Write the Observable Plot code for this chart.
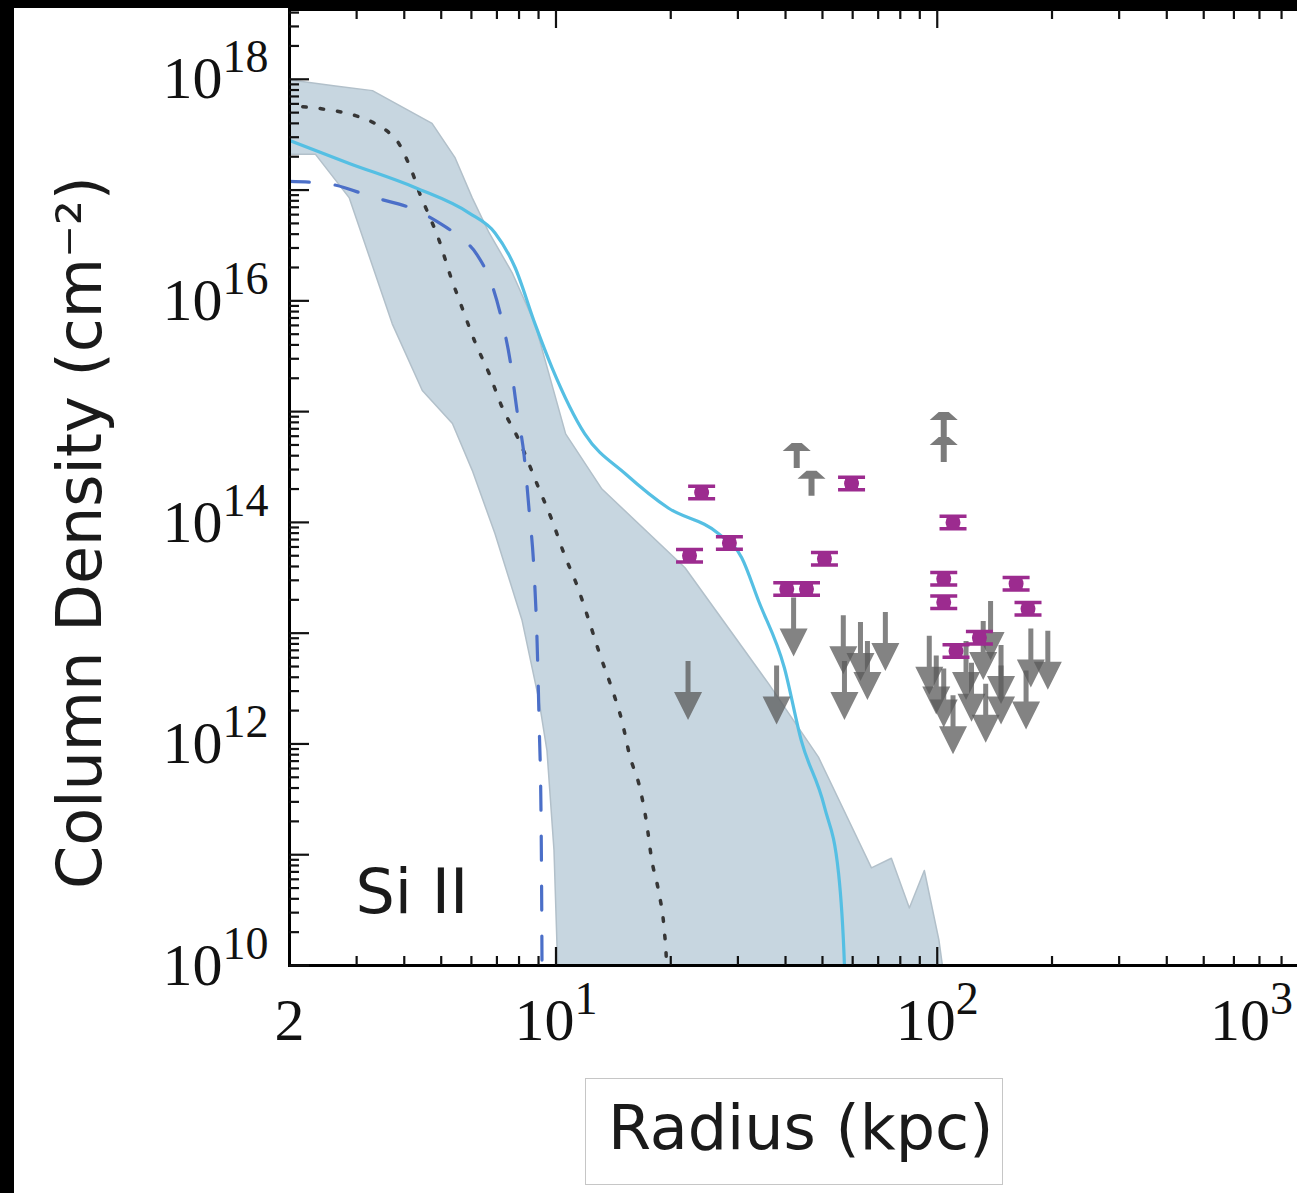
<!DOCTYPE html>
<html>
<head>
<meta charset="utf-8">
<script src="https://cdn.jsdelivr.net/npm/d3@7"></script>
<script src="https://cdn.jsdelivr.net/npm/@observablehq/plot@0.6"></script>
<style>
  html, body { margin: 0; padding: 0; background: #fff; overflow: hidden; width: 1297px; height: 1193px; }
  #chart { position: absolute; left: 14px; top: 8px; width: 1324px; }
  #chart svg { max-width: none !important; width: 1324px; height: 1050px; }
  #strip-left { position: absolute; left: 0; top: 0; width: 14px; height: 1193px; background: #000; }
  #strip-top { position: absolute; left: 0; top: 0; width: 1297px; height: 8px; background: #000; }
  #xlabel { position: absolute; left: 585px; top: 1078px; width: 416px; height: 105px; border: 1px solid #c6c6c6; }
  #xlabel span { position: absolute; left: 22px; top: 18px; font-family: "DejaVu Sans"; font-size: 62px; line-height: 62px; color: #1a1a1a; white-space: nowrap; }
</style>
</head>
<body>
<div id="chart"></div>
<div id="strip-left"></div>
<div id="strip-top"></div>
<div id="xlabel"><span>Radius (kpc)</span></div>
<script>
// ---- shaded model range (upper edge, left to right) ----
const bandUpperR = [1.95, 2.64, 3.30, 4.73, 5.44, 6.03, 6.68, 7.67, 8.81, 10.6, 13.2, 21.8, 36.1, 48.8, 67.2, 75.8, 84.5, 92.5, 101, 108];
const bandUpperN = [1.0e18, 8.7e17, 7.9e17, 4.0e17, 1.95e17, 8.5e16, 4.1e16, 1.8e16, 6.2e15, 6.3e14, 2.0e14, 3.9e13, 3.5e12, 7.6e11, 7.6e10, 9.3e10, 3.3e10, 7.2e10, 1.7e10, 3.2e9];
// ---- shaded model range (lower edge, left to right) ----
const bandLowerR = [1.95, 2.34, 2.87, 3.24, 3.72, 4.46, 5.35, 6.03, 6.92, 8.15, 9.02, 9.47, 9.88, 10.1, 10.15];
const bandLowerN = [2.1e17, 2.1e17, 8.5e16, 2.5e16, 6.2e15, 1.55e15, 7.8e14, 2.95e14, 7.9e13, 1.3e13, 2.5e12, 8.7e11, 1.1e11, 1.0e10, 3.2e9];

// ---- solid cyan model ----
const solidR = [1.95, 2.87, 4.28, 5.92, 6.92, 7.81, 8.81, 9.76, 11.9, 15.2, 19.7, 26.7, 30.7, 34.0, 39.7, 44.0, 50.6, 55.1, 57.1, 57.6];
const solidN = [2.9e17, 1.74e17, 1.05e17, 6.2e16, 4.1e16, 2.0e16, 6.2e15, 2.5e15, 6.3e14, 2.75e14, 1.35e14, 7.9e13, 4.8e13, 1.95e13, 4.9e12, 1.07e12, 2.7e11, 6.8e10, 1.0e10, 4.0e9];

// ---- dashed blue model ----
const dashedR = [1.95, 2.48, 3.36, 4.20, 4.88, 5.51, 6.21, 6.80, 7.22, 7.58, 7.91, 8.25, 8.50, 8.76, 8.92, 9.03, 9.14, 9.19, 9.20];
const dashedN = [1.2e17, 1.15e17, 8.5e16, 6.8e16, 5.2e16, 3.9e16, 2.6e16, 1.38e16, 6.6e15, 2.9e15, 1.0e15, 4.0e14, 1.3e14, 3.6e13, 8.5e12, 1.6e12, 2.0e11, 1.0e10, 4.0e9];

// ---- dotted dark model ----
const dottedR = [1.95, 2.44, 2.98, 3.30, 3.61, 3.88, 4.07, 4.25, 4.38, 4.59, 4.94, 5.28, 5.67, 6.14, 6.68, 7.22, 8.00, 9.03, 9.76, 10.5, 11.4, 12.2, 13.0, 14.0, 14.9, 15.6, 16.6, 17.3, 17.8, 18.6, 19.2, 19.5, 19.6];
const dottedN = [5.8e17, 5.4e17, 4.7e17, 4.1e17, 3.4e17, 2.6e17, 1.86e17, 1.29e17, 9.5e16, 6.5e16, 3.5e16, 1.7e16, 8.7e15, 4.2e15, 2.2e15, 1.1e15, 5.5e14, 2.0e14, 1.05e14, 5.2e13, 2.6e13, 1.3e13, 6.6e12, 3.2e12, 1.6e12, 7.9e11, 4.0e11, 1.9e11, 9.3e10, 4.6e10, 2.2e10, 1.0e10, 4.0e9];

// ---- observations: detections (magenta) ----
const detR = [24.1, 22.4, 28.5, 59.6, 50.6, 40.3, 45.4, 110, 104, 104, 161, 173, 129, 112];
const detN = [1.86e14, 5.0e13, 6.5e13, 2.24e14, 4.7e13, 2.5e13, 2.5e13, 1.0e14, 3.1e13, 1.9e13, 2.8e13, 1.66e13, 9.1e12, 6.9e12];

// ---- observations: lower limits (grey, up) ----
const lowR = [42.8, 46.8, 104, 104];
const lowN = [3.1e14, 1.74e14, 5.9e14, 3.5e14];

// ---- observations: upper limits (grey, down) ----
const uppR = [22.2, 37.9, 42.0, 56.7, 62.9, 65.6, 73.1, 57.1, 95.3, 99.4, 104, 110, 119, 123, 132, 138, 134, 147, 147, 171, 176, 195];
const uppN = [5.6e12, 5.1e12, 2.1e13, 1.45e13, 1.26e13, 8.5e12, 1.55e13, 5.6e12, 9.5e12, 6.3e12, 4.8e12, 2.75e12, 8.5e12, 5.4e12, 1.29e13, 1.95e13, 3.5e12, 7.8e12, 5.1e12, 4.6e12, 1.1e13, 1.05e13];

// ---- axis ticks ----
const xTickValues = [2, 10, 100];
const xTickFar = [1000];
const yTickValues = [1e10, 1e12, 1e14, 1e16, 1e18];
const ionLabel = "Si II";
const yLabel = "Column Density (cm\u207B\u00B2)";

const rows = (R, N) => R.map((r, i) => ({r, n: N[i]}));
const band = [...rows(bandUpperR, bandUpperN), ...rows(bandLowerR, bandLowerN).reverse()];

const majorX = [10, 100, 1000];
const minorX = [];
for (const e of [0, 1, 2]) for (let k = 2; k <= 9; k++) { const v = k * 10 ** e; if (v > 2 && v < 1000) minorX.push(v); }
const majorY = d3.range(10, 19).map(e => 10 ** e);
const minorY = [];
for (let e = 10; e <= 18; e++) for (let k = 2; k <= 9; k++) minorY.push(k * 10 ** e);

const fmtX = d => d === 2 ? "2" : "10^" + Math.round(Math.log10(d));
const fmtY = d => "10^" + Math.round(Math.log10(d));

// custom glyphs (pixel space, anchored at the data point)
const downArrow = {draw(c) {
  c.moveTo(-2.5, 0); c.lineTo(2.5, 0); c.lineTo(2.5, 31); c.lineTo(14, 31);
  c.lineTo(0, 59); c.lineTo(-14, 31); c.lineTo(-2.5, 31); c.closePath();
}};
const upArrow = {draw(c) {
  c.moveTo(-3, 0); c.lineTo(3, 0); c.lineTo(3, -17); c.lineTo(14, -17);
  c.lineTo(5, -25); c.lineTo(-5, -25); c.lineTo(-14, -17); c.lineTo(-3, -17); c.closePath();
}};
const iBeam = {draw(c) {
  c.moveTo(7.5, 0); c.arc(0, 0, 7.5, 0, 2 * Math.PI); c.closePath();
  c.rect(-13.5, -8, 27, 3.5);
  c.rect(-13.5, 4.5, 27, 3.5);
  c.rect(-6.5, -5, 13, 10);
}};

const serif = "Liberation Serif";
const tickStyle = {fill: "none", stroke: "#111", strokeWidth: 2.2, label: null};

const plot = Plot.plot({
  width: 1324,
  height: 1050,
  marginLeft: 275,
  marginRight: 20,
  marginTop: 1,
  marginBottom: 93,
  x: {type: "log", domain: [2, 1000]},
  y: {type: "log", domain: [1e10, 10 ** 18.63]},
  style: {background: "transparent", color: "#111", overflow: "visible", maxWidth: "none"},
  marks: [
    Plot.line(band, {x: "r", y: "n", curve: "linear-closed", fill: "#c7d6e0", stroke: "#b2c0ca", strokeWidth: 1.5, clip: true}),
    Plot.line(rows(dottedR, dottedN), {x: "r", y: "n", curve: "monotone-x", stroke: "#363636", strokeWidth: 3.5, strokeDasharray: "3.5 14", clip: true}),
    Plot.line(rows(dashedR, dashedN), {x: "r", y: "n", curve: "monotone-x", stroke: "#4b6fc8", strokeWidth: 3.2, strokeDasharray: "24 26", clip: true}),
    Plot.line(rows(solidR, solidN), {x: "r", y: "n", curve: "monotone-x", stroke: "#55bfe3", strokeWidth: 3.2, clip: true}),
    Plot.dot(rows(uppR, uppN), {x: "r", y: "n", symbol: downArrow, fill: "#5a5a5a", fillOpacity: 0.75, stroke: "none"}),
    Plot.dot(rows(lowR, lowN), {x: "r", y: "n", symbol: upArrow, fill: "#5a5a5a", fillOpacity: 0.8, stroke: "none"}),
    Plot.dot(rows(detR, detN), {x: "r", y: "n", symbol: iBeam, fill: "#9c2b8f", stroke: "none"}),
    Plot.frame({stroke: "#000", strokeWidth: 3}),
    // inward ticks
    Plot.axisX({anchor: "bottom", ticks: majorX, tickSize: 18, dy: -18, ...tickStyle}),
    Plot.axisX({anchor: "bottom", ticks: minorX, tickSize: 9, dy: -9, ...tickStyle}),
    Plot.axisX({anchor: "top", ticks: majorX, tickSize: 18, dy: 18, ...tickStyle}),
    Plot.axisX({anchor: "top", ticks: minorX, tickSize: 9, dy: 9, ...tickStyle}),
    Plot.axisY({anchor: "left", ticks: majorY, tickSize: 20, dx: 20, ...tickStyle}),
    Plot.axisY({anchor: "left", ticks: minorY, tickSize: 10, dx: 10, ...tickStyle}),
    // tick labels
    Plot.axisX({anchor: "bottom", ticks: xTickValues, tickSize: 0, tickPadding: 32, tickFormat: fmtX, fontSize: 60, fontFamily: serif, fill: "#111", label: null}),
    Plot.axisX({anchor: "bottom", ticks: xTickFar, tickSize: 0, tickPadding: 32, tickFormat: fmtX, fontSize: 60, fontFamily: serif, fill: "#111", label: null, dx: -67}),
    Plot.axisY({anchor: "left", ticks: yTickValues, tickSize: 0, tickPadding: 21, tickFormat: fmtY, fontSize: 60, fontFamily: serif, fill: "#111", label: null}),
    // labels
    Plot.text([yLabel], {frameAnchor: "left", textAnchor: "middle", rotate: -90, lineAnchor: "bottom", dx: -189, dy: 45, fontSize: 62, fontFamily: "DejaVu Sans", fill: "#1a1a1a"}),
    Plot.text([ionLabel], {frameAnchor: "bottom-left", textAnchor: "start", lineAnchor: "bottom", dx: 66, dy: -53, fontSize: 62, fontFamily: "DejaVu Sans", fill: "#1a1a1a"})
  ]
});

// render exponents as superscripts
d3.select(plot).selectAll("text").each(function () {
  const t = this.textContent;
  if (!t.includes("^")) return;
  const [base, exp] = t.split("^");
  const sel = d3.select(this);
  sel.text(null);
  sel.append("tspan").text(base);
  sel.append("tspan").attr("font-size", 46).attr("dy", -26).text(exp);
});

document.getElementById("chart").appendChild(plot);
</script>
</body>
</html>
